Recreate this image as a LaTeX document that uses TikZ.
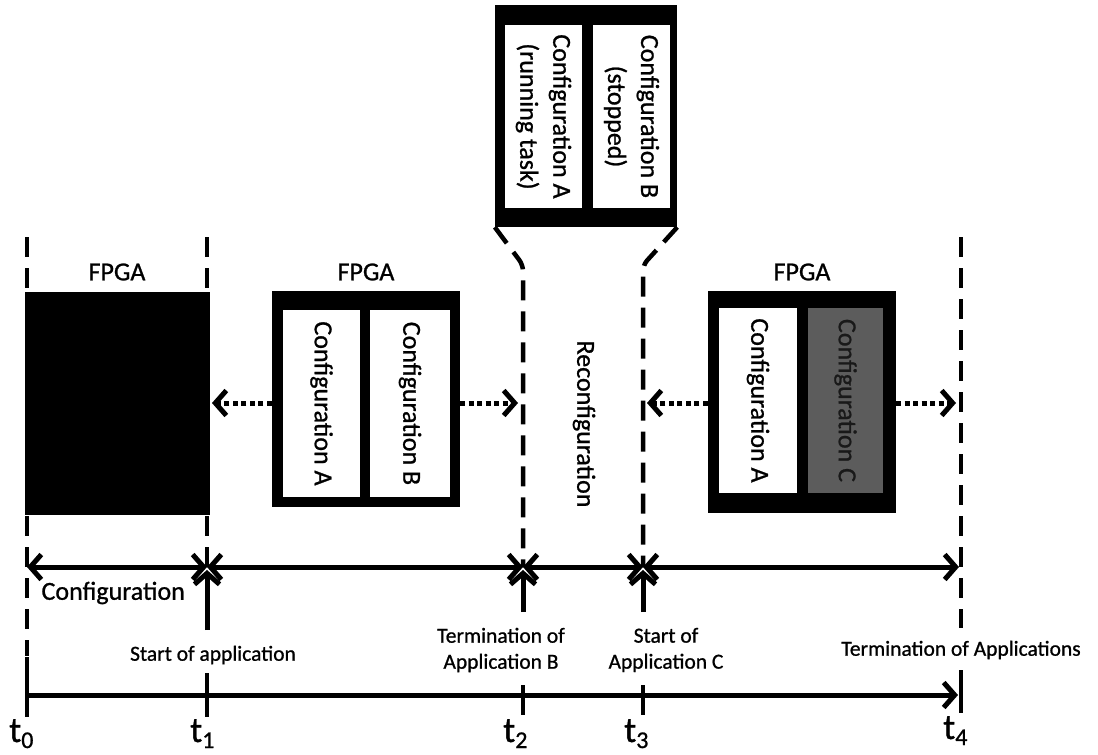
\documentclass[tikz,border=0pt]{standalone}
\usepackage{fontspec}
\setmainfont{Carlito}[FakeBold=0.9]
\usetikzlibrary{arrows.meta}
\newcommand\tsub[1]{\raisebox{-6pt}{\fontsize{24}{24}\selectfont #1}}
\begin{document}
\begin{tikzpicture}[x=1pt,y=-1pt,
  chev/.tip={Straight Barb[length=11pt,width=25pt]},
  big/.style={font=\fontsize{26}{33}\selectfont},
  small/.style={font=\fontsize{21.5}{26}\selectfont, align=center, inner sep=1pt},
  tlab/.style={font=\fontsize{36}{36}\selectfont, inner sep=0pt, anchor=base west},
  vdash/.style={line width=4.5pt, dash pattern=on 20pt off 11pt},
  timeseg/.style={line width=5pt, chev-chev},
  uparrow/.style={line width=5pt, -chev},
  dotarrow/.style={line width=5pt, dash pattern=on 5pt off 3.5pt, -chev},
  tick/.style={line width=4.5pt},
  fpgabox/.style={fill=black, draw=none, inner sep=0pt},
  column/.style={fill=white, draw=none, inner sep=0pt, rotate=-90, big, align=center},
  deadcol/.style={column, fill=black!64, text=black!90},
]
\useasboundingbox (0,0) rectangle (1098,755);

% ---- instants on the time axis ----
\coordinate (t0top) at (27,237);   \coordinate (t0bot) at (27,656);
\coordinate (t1top) at (207,237);  \coordinate (t1bot) at (207,567);
\coordinate (t2bend) at (523,265); \coordinate (t2bot) at (523,567);
\coordinate (t3bend) at (643,265); \coordinate (t3bot) at (643,567);
\coordinate (t4top) at (961,237);  \coordinate (t4bot) at (961,628);

% ---- zoomed view of the FPGA during reconfiguration ----
\node[fpgabox, minimum width=182pt, minimum height=222pt] (pop) at (586,116) {};
\node[column, minimum width=183pt, minimum height=77pt] (popA) at (543.5,116.5)
  {Configuration A\\(running task)};
\node[column, minimum width=183pt, minimum height=77pt] (popB) at (631.5,116.5)
  {Configuration B\\(stopped)};

% ---- dashed instant markers ----
\draw[vdash] (t0top) -- (t0bot);
\draw[vdash] (t1top) -- (t1bot);
\draw[vdash, rounded corners=6pt] (pop.south west) -- (t2bend) -- (t2bot);
\draw[vdash, rounded corners=6pt] (pop.south east) -- (t3bend) -- (t3bot);
\draw[vdash] (t4top) -- (t4bot);

% ---- FPGA states ----
\node[big] (lbl1) at (117,272) {FPGA};
\node[fpgabox, minimum width=185pt, minimum height=223pt] (fpga1) at (117.5,403.5) {};

\node[big] (lbl2) at (366,272) {FPGA};
\node[fpgabox, minimum width=188pt, minimum height=216pt] (fpga2) at (366,399) {};
\node[column, minimum width=187pt, minimum height=77pt] (cA2) at (321.5,403.5) {Configuration A};
\node[column, minimum width=187pt, minimum height=80pt] (cB2) at (410,403.5) {Configuration B};

\node[big] (lbl4) at (802,272) {FPGA};
\node[fpgabox, minimum width=188pt, minimum height=222pt] (fpga4) at (802,402) {};
\node[column, minimum width=185pt, minimum height=78pt] (cA4) at (758,400.5) {Configuration A};
\node[deadcol, minimum width=185pt, minimum height=75pt] (cC4) at (845.5,400.5) {Configuration C};

\node[big, rotate=-90] (reconf) at (584,424) {Reconfiguration};

% ---- lifetime of each state ----
\coordinate (d1) at (212,403); \coordinate (d2) at (518,403);
\coordinate (d3) at (647,403); \coordinate (d4) at (956,403);
\draw[dotarrow] (fpga2.west |- d1) -- (d1);
\draw[dotarrow] (fpga2.east |- d2) -- (d2);
\draw[dotarrow] (fpga4.west |- d3) -- (d3);
\draw[dotarrow] (fpga4.east |- d4) -- (d4);

% ---- phases ----
\coordinate (a0) at (27,567);  \coordinate (a1) at (207,567);
\coordinate (a2) at (523,567); \coordinate (a3) at (643,567);
\coordinate (a4) at (959,567);
\draw[timeseg] (a0) -- (a1);
\draw[timeseg] (a1) -- (a2);
\draw[timeseg] (a2) -- (a3);
\draw[timeseg] (a3) -- (a4);
\node[big, anchor=west] (conf) at (38,593) {Configuration};

% ---- events ----
\coordinate (e1) at (207,630); \coordinate (e2) at (523,612); \coordinate (e3) at (643,612);
\draw[uparrow] (e1) -- ([yshift=-3pt]a1);
\draw[uparrow] (e2) -- ([yshift=-3pt]a2);
\draw[uparrow] (e3) -- ([yshift=-3pt]a3);
\node[small] (ev1) at (213,655) {Start of application};
\node[small] (ev2) at (501,650) {Termination of\\Application B};
\node[small] (ev3) at (666,650) {Start of\\Application C};
\node[small] (ev4) at (961,650) {Termination of Applications};

% ---- time axis ----
\coordinate (x0) at (27,695); \coordinate (x4) at (958,695);
\draw[line width=5pt, -chev] (x0) -- (x4);
\draw[tick] (27,657) -- (27,717);
\draw[tick] (207,673) -- (207,717);
\draw[tick] (523,685) -- (523,715);
\draw[tick] (643,685) -- (643,715);
\draw[tick] (961,670) -- (961,713);
\node[tlab] (lt0) at (9,742) {t\tsub{0}};
\node[tlab] (lt1) at (190,742) {t\tsub{1}};
\node[tlab] (lt2) at (503,742) {t\tsub{2}};
\node[tlab] (lt3) at (624,742) {t\tsub{3}};
\node[tlab] (lt4) at (943,739) {t\tsub{4}};
\end{tikzpicture}
\end{document}
